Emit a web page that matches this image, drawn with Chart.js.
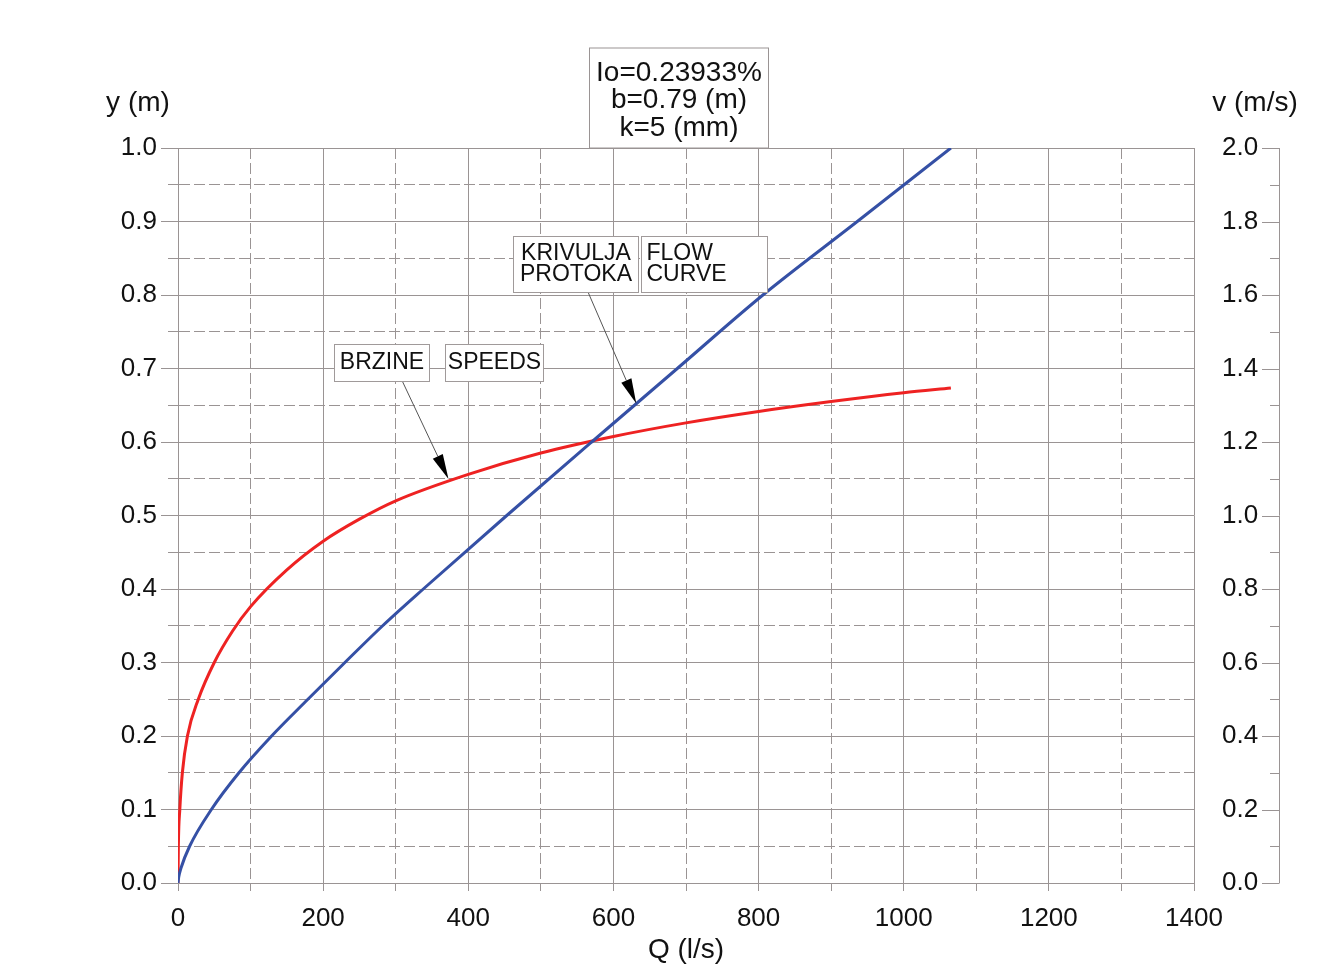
<!DOCTYPE html>
<html lang="hr">
<head>
    <meta charset="utf-8">
    <title>Krivulja protoka</title>
    <script src="https://cdn.jsdelivr.net/npm/chart.js"></script>
    <style>
        html, body { margin: 0; padding: 0; background: #fff; }
        #wrap { width: 1329px; height: 980px; }
    </style>
</head>
<body>
<div id="wrap"><canvas id="rating" width="1329" height="980"></canvas></div>

<script>
    // Flow curve (blue) - discharge Q (l/s) against depth y (m), left axis
    const flowQ = [0, 1, 4, 16, 46, 84, 129, 179, 230, 282, 338, 453, 570, 688, 806, 936, 1065];
    const flowY = [0, 0.008, 0.02, 0.05, 0.10, 0.15, 0.20, 0.25, 0.30, 0.35, 0.40, 0.50, 0.60, 0.70, 0.80, 0.90, 1.0];

    // Speeds (red) - discharge Q (l/s) against velocity v (m/s), right axis
    const speedQ = [0, 0.5, 2.5, 6, 13, 28, 50, 75, 100, 150, 200, 250, 300, 400, 500, 600, 700, 800, 900, 1000, 1065];
    const speedV = [0, 0.10, 0.20, 0.30, 0.40, 0.50, 0.60, 0.685, 0.752, 0.852, 0.93, 0.99, 1.04, 1.112, 1.170, 1.215, 1.252, 1.283, 1.310, 1.334, 1.347];

    // axis ranges
    const qRange = [0, 1400];
    const yRange = [0, 1.0];
    const vRange = [0, 2.0];

    // channel parameters shown in the header box
    const paramLines = ['Io=0.23933%', 'b=0.79 (m)', 'k=5 (mm)'];

    // callouts: box extents in Q / y units, arrow from box to curve
    const callouts = [
        { boxes: [{ q0: 215, q1: 346, lines: ['BRZINE'], align: 'center' },
                  { q0: 368, q1: 503, lines: ['SPEEDS'], align: 'center' }],
          top: 0.733, bottom: 0.683, from: [309, 0.683], to: [372.7, 0.5497] },
        { boxes: [{ q0: 462, q1: 634, lines: ['KRIVULJA', 'PROTOKA'], align: 'center' },
                  { q0: 638, q1: 812, lines: ['FLOW', 'CURVE'], align: 'left' }],
          top: 0.880, bottom: 0.804, from: [565, 0.804], to: [631.5, 0.6524] }
    ];

    const FONT = "'Liberation Sans', Arial, sans-serif";
    const GRID = '#9a9494';
    const INK = '#111';

    const isMajorX = v => Math.round(v) % 200 === 0;
    const isMajorY = v => Math.round(v * 20) % 2 === 0;
    const isMajorV = v => Math.round(v * 10) % 2 === 0;

    // header box, axis captions, detached right axis and callouts
    const decor = {
        id: 'decor',
        beforeDraw(chart) {
            const c = chart.ctx;
            c.save();
            c.fillStyle = '#fff';
            c.fillRect(0, 0, chart.width, chart.height);
            c.restore();
        },
        afterDraw(chart) {
            const c = chart.ctx;
            const { x, y, y2 } = chart.scales;
            const area = chart.chartArea;
            c.save();

            // right axis line with its ticks
            const axX = y2.left + 85;
            c.strokeStyle = GRID;
            c.lineWidth = 1;
            c.beginPath();
            c.moveTo(axX + 0.5, y2.getPixelForValue(vRange[1]));
            c.lineTo(axX + 0.5, y2.getPixelForValue(vRange[0]));
            y2.ticks.forEach(t => {
                const py = Math.round(y2.getPixelForValue(t.value)) + 0.5;
                const len = isMajorV(t.value) ? 17 : 9;
                c.moveTo(axX - len, py);
                c.lineTo(axX + 0.5, py);
            });
            c.stroke();

            // axis captions
            c.fillStyle = INK;
            c.font = '28px ' + FONT;
            c.textAlign = 'center';
            c.textBaseline = 'middle';
            c.fillText('y (m)', y.right - 40, area.top - 45);
            c.fillText('v (m/s)', axX - 24, area.top - 45);

            // parameter box
            const bx0 = Math.round(x.getPixelForValue(566)) + 0.5;
            const bx1 = Math.round(x.getPixelForValue(813)) + 0.5;
            const by0 = area.top - 100;
            c.strokeStyle = GRID;
            c.fillStyle = '#fff';
            c.fillRect(bx0, by0, bx1 - bx0, area.top - by0);
            c.strokeRect(bx0, by0, bx1 - bx0, area.top - by0);
            c.fillStyle = INK;
            c.font = '28px ' + FONT;
            paramLines.forEach((s, i) => c.fillText(s, (bx0 + bx1) / 2, by0 + 25 + i * 27.5));

            // callouts
            callouts.forEach(n => {
                const fx = x.getPixelForValue(n.from[0]), fy = y.getPixelForValue(n.from[1]);
                const tx = x.getPixelForValue(n.to[0]), ty = y.getPixelForValue(n.to[1]);
                drawArrow(c, fx, fy, tx, ty);

                const top = Math.round(y.getPixelForValue(n.top)) + 0.5;
                const bot = Math.round(y.getPixelForValue(n.bottom)) + 0.5;
                n.boxes.forEach(b => {
                    const l = Math.round(x.getPixelForValue(b.q0)) + 0.5;
                    const r = Math.round(x.getPixelForValue(b.q1)) + 0.5;
                    c.fillStyle = '#fff';
                    c.fillRect(l, top, r - l, bot - top);
                    c.strokeStyle = '#a09a9a';
                    c.strokeRect(l, top, r - l, bot - top);
                    c.fillStyle = INK;
                    c.font = '23px ' + FONT;
                    c.textBaseline = 'middle';
                    c.textAlign = b.align;
                    const tx0 = b.align === 'left' ? l + 5 : (l + r) / 2;
                    const mid = (top + bot) / 2;
                    const first = mid - (b.lines.length - 1) * 10.5;
                    b.lines.forEach((s, i) => c.fillText(s, tx0, first + i * 21));
                });
            });
            c.restore();
        }
    };

    function drawArrow(c, x0, y0, x1, y1) {
        const ang = Math.atan2(y1 - y0, x1 - x0);
        const L = 25, W = 5.5;
        const cs = Math.cos(ang), sn = Math.sin(ang);
        c.strokeStyle = '#555';
        c.lineWidth = 1;
        c.beginPath();
        c.moveTo(x0, y0);
        c.lineTo(x1 - L * cs, y1 - L * sn);
        c.stroke();
        c.fillStyle = '#000';
        c.beginPath();
        c.moveTo(x1, y1);
        c.lineTo(x1 - L * cs + W * sn, y1 - L * sn - W * cs);
        c.lineTo(x1 - L * cs - W * sn, y1 - L * sn + W * cs);
        c.closePath();
        c.fill();
    }

    const ctx = document.getElementById('rating').getContext('2d');
    new Chart(ctx, {
        type: 'line',
        data: {
            datasets: [
                {
                    label: 'Krivulja protoka',
                    data: flowQ.map((q, i) => ({ x: q, y: flowY[i] })),
                    yAxisID: 'y',
                    borderColor: '#3550a5',
                    borderWidth: 3,
                    pointRadius: 0,
                    cubicInterpolationMode: 'monotone',
                    fill: false
                },
                {
                    label: 'Brzine',
                    data: speedQ.map((q, i) => ({ x: q, y: speedV[i] })),
                    yAxisID: 'y2',
                    borderColor: '#ee2222',
                    borderWidth: 3,
                    pointRadius: 0,
                    cubicInterpolationMode: 'monotone',
                    fill: false
                }
            ]
        },
        options: {
            responsive: false,
            animation: false,
            layout: { padding: { top: 148, left: 0, right: 0, bottom: 0 } },
            plugins: {
                legend: { display: false },
                tooltip: { enabled: false }
            },
            scales: {
                x: {
                    type: 'linear',
                    min: qRange[0],
                    max: qRange[1],
                    ticks: {
                        stepSize: 100,
                        autoSkip: false,
                        maxRotation: 0,
                        padding: 12,
                        color: INK,
                        font: { family: FONT, size: 26 },
                        callback: v => isMajorX(v) ? String(v) : ''
                    },
                    grid: { color: GRID, lineWidth: 1, tickLength: 8, tickColor: GRID, tickBorderDash: [] },
                    border: {
                        display: true, color: GRID, width: 1,
                        dash: c => (c.tick && !isMajorX(c.tick.value)) ? [11, 4] : []
                    },
                    title: {
                        display: true, text: 'Q (l/s)', color: INK,
                        font: { family: FONT, size: 28 },
                        padding: { top: 0, bottom: 13 }
                    },
                    afterFit: s => { s.height = 97; }
                },
                y: {
                    position: 'left',
                    min: yRange[0],
                    max: yRange[1],
                    ticks: {
                        stepSize: 0.05,
                        autoSkip: false,
                        padding: 4,
                        color: INK,
                        font: { family: FONT, size: 26 },
                        callback: v => isMajorY(v) ? v.toFixed(1) : ''
                    },
                    grid: {
                        color: GRID, lineWidth: 1, tickLength: 17, tickColor: GRID,
                        tickBorderDash: c => (c.tick && !isMajorY(c.tick.value)) ? [0, 7, 10] : []
                    },
                    border: {
                        display: true, color: GRID, width: 1,
                        dash: c => (c.tick && !isMajorY(c.tick.value)) ? [11, 4] : []
                    },
                    afterFit: s => { s.width = 178; }
                },
                y2: {
                    position: 'right',
                    min: vRange[0],
                    max: vRange[1],
                    ticks: {
                        stepSize: 0.1,
                        autoSkip: false,
                        crossAlign: 'near',
                        padding: 28,
                        color: INK,
                        font: { family: FONT, size: 26 },
                        callback: v => isMajorV(v) ? v.toFixed(1) : ''
                    },
                    grid: { display: false, drawOnChartArea: false, drawTicks: false },
                    border: { display: false },
                    afterFit: s => { s.width = 135; }
                }
            }
        },
        plugins: [decor]
    });
</script>
</body>
</html>
